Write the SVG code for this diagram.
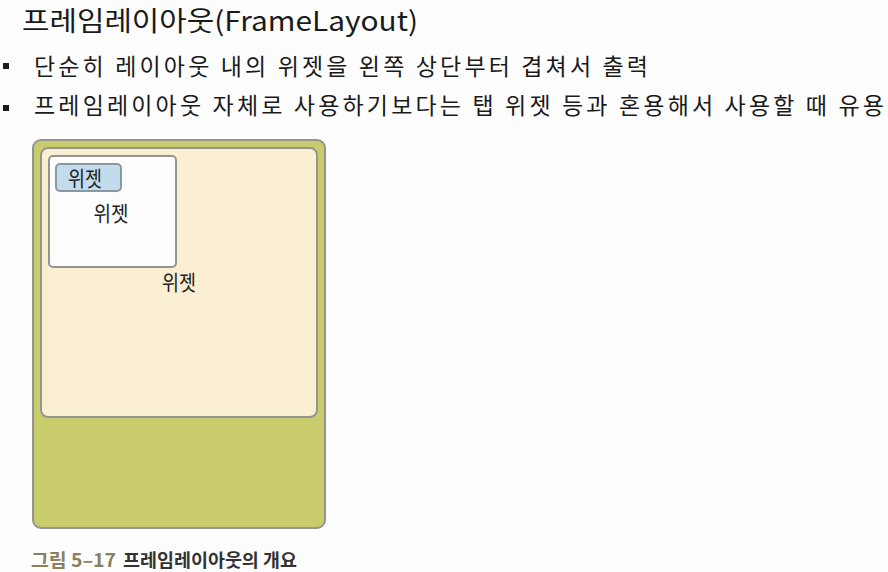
<svg xmlns="http://www.w3.org/2000/svg" width="888" height="572" viewBox="0 0 888 572">
<style>
.t{font-family:"Noto Sans CJK KR","Noto Sans",sans-serif;fill:#1a1a1a}
.lbl{font-family:"Noto Sans CJK KR","Noto Sans",sans-serif;font-size:21px;fill:#222;text-anchor:middle}
.box{stroke:#959590;stroke-width:2}
</style>
<rect width="888" height="572" fill="#fdfdfd"/>
<text class="t" x="22" y="31" font-size="27" textLength="396" lengthAdjust="spacingAndGlyphs">프레임레이아웃(FrameLayout)</text>
<rect x="3" y="63" width="6" height="6" fill="#1a1a1a"/>
<text class="t" x="34" y="75" font-size="23" textLength="614" lengthAdjust="spacing">단순히 레이아웃 내의 위젯을 왼쪽 상단부터 겹쳐서 출력</text>
<rect x="3" y="105" width="6" height="6" fill="#1a1a1a"/>
<text class="t" x="34" y="114" font-size="23" textLength="850" lengthAdjust="spacing">프레임레이아웃 자체로 사용하기보다는 탭 위젯 등과 혼용해서 사용할 때 유용</text>
<g id="outer">
<rect class="box" x="33" y="140" width="292" height="388" rx="8" fill="#c8cc6c"/>
</g>
<g id="frame">
<rect class="box" x="41" y="148" width="276" height="269" rx="7" fill="#faeed3"/>
<text class="lbl" x="179" y="290" textLength="34" lengthAdjust="spacingAndGlyphs">위젯</text>
</g>
<g id="middle">
<rect class="box" x="49" y="156" width="127" height="111" rx="4" fill="#fdfdfd"/>
<text class="lbl" x="111" y="221" textLength="35" lengthAdjust="spacingAndGlyphs">위젯</text>
</g>
<g id="inner">
<rect x="56" y="164" width="65" height="27" rx="4" fill="#c3dced" stroke="#8a98a0" stroke-width="2"/>
<text class="lbl" x="85" y="186" textLength="34" lengthAdjust="spacingAndGlyphs">위젯</text>
</g>
<g id="connectors"/>
<text x="31" y="567" font-family="'Noto Sans CJK KR','Noto Sans',sans-serif" font-size="18" font-weight="bold" fill="#8a8060" textLength="85" lengthAdjust="spacingAndGlyphs">그림 5–17</text>
<text x="123" y="567" font-family="'Noto Sans CJK KR','Noto Sans',sans-serif" font-size="18" font-weight="bold" fill="#333" textLength="174" lengthAdjust="spacingAndGlyphs">프레임레이아웃의 개요</text>
</svg>
